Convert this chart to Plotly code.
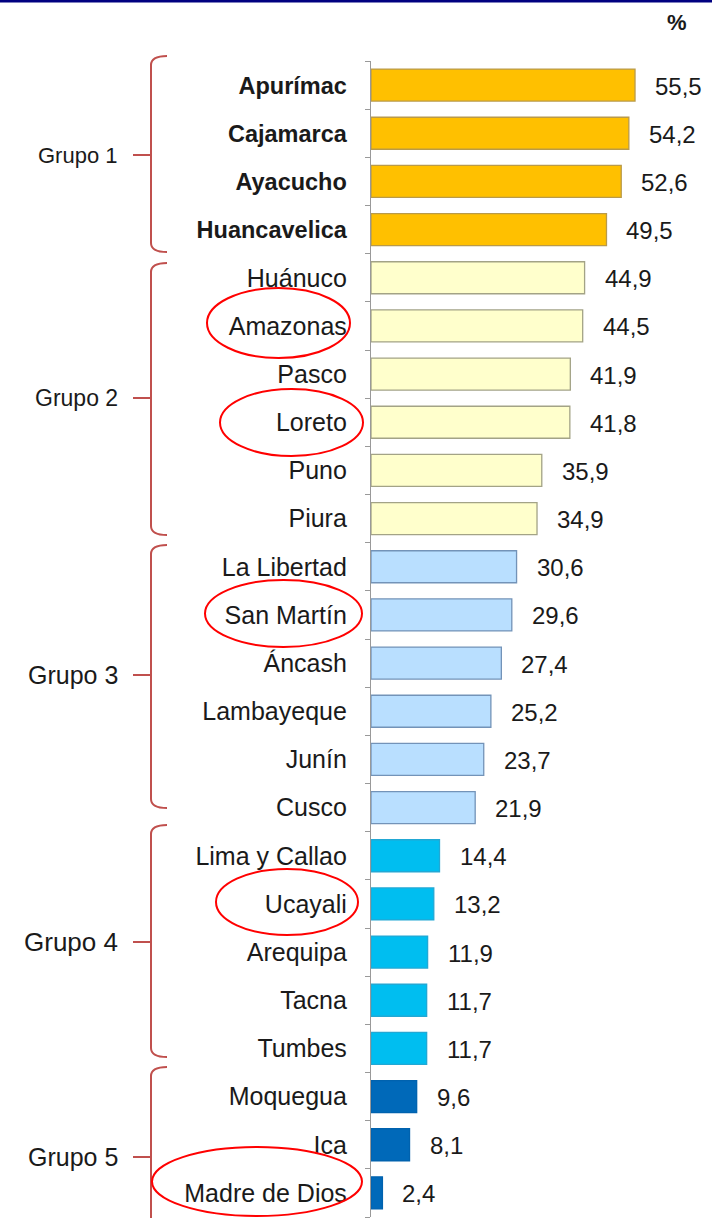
import plotly.graph_objects as go

# ---------------- data ----------------
regions = ["Apurímac", "Cajamarca", "Ayacucho", "Huancavelica",
           "Huánuco", "Amazonas", "Pasco", "Loreto", "Puno", "Piura",
           "La Libertad", "San Martín", "Áncash", "Lambayeque", "Junín", "Cusco",
           "Lima y Callao", "Ucayali", "Arequipa", "Tacna", "Tumbes",
           "Moquegua", "Ica", "Madre de Dios"]
values = [55.5, 54.2, 52.6, 49.5,
          44.9, 44.5, 41.9, 41.8, 35.9, 34.9,
          30.6, 29.6, 27.4, 25.2, 23.7, 21.9,
          14.4, 13.2, 11.9, 11.7, 11.7,
          9.6, 8.1, 2.4]
group_of = [1, 1, 1, 1,
            2, 2, 2, 2, 2, 2,
            3, 3, 3, 3, 3, 3,
            4, 4, 4, 4, 4,
            5, 5, 5]
group_names = ["Grupo 1", "Grupo 2", "Grupo 3", "Grupo 4", "Grupo 5"]
highlighted = ["Amazonas", "Loreto", "San Martín", "Ucayali", "Madre de Dios"]
unit_label = "%"

# ---------------- styles ----------------
fill_colors = {1: "#FFC000", 2: "#FFFFCC", 3: "#B9DFFF", 4: "#00BEF0", 5: "#0069B9"}
line_colors = {1: "#B99A4A", 2: "#A3A386", 3: "#7393B8", 4: "#22A8D4", 5: "#0062AE"}
brace_color = "#C0504D"
ellipse_color = "#FF0000"
text_color = "#1A1A1A"
FONT = "Liberation Sans, Arial, sans-serif"

W, H = 712, 1218
L, R, T, B = 371, 8, 61, 1
PW, PH = W - L - R, H - T - B


def px(x):
    return (x - L) / PW


def py(y):
    return (H - B - y) / PH


ticktext = []
for reg, g in zip(regions, group_of):
    if g == 1:
        ticktext.append(f"<b><span style='font-size:23.5px'>{reg}</span></b>")
    else:
        ticktext.append(reg)

fig = go.Figure()
fig.add_trace(go.Bar(
    x=values, y=regions, orientation="h",
    marker=dict(color=[fill_colors[g] for g in group_of],
                line=dict(color=[line_colors[g] for g in group_of], width=1.3)),
    hoverinfo="x+y",
))

annotations = []
for reg, v in zip(regions, values):
    annotations.append(dict(
        x=v, y=reg, xref="x", yref="y", xanchor="left", yanchor="middle",
        xshift=18, yshift=-1, showarrow=False,
        text=f"{v:.1f}".replace(".", ","),
        font=dict(size=24, color=text_color, family=FONT)))

# group labels & braces (pixel geometry of the hand-drawn braces)
brace_geom = [(56, 252, 155), (263, 535, 398), (545, 808, 675),
              (825, 1057, 942), (1067, 1240, 1157)]
label_sizes = [22, 23, 25, 26, 25]
shapes = []
xl, xr, xt = 151, 167, 133
for name, (top, bot, mid), fs in zip(group_names, brace_geom, label_sizes):
    annotations.append(dict(
        x=px(120), y=py(mid), xref="paper", yref="paper", xanchor="right",
        yanchor="middle", showarrow=False, text=name,
        font=dict(size=fs, color=text_color, family=FONT)))
    path = (f"M {px(xr)},{py(top)} Q {px(xl)},{py(top)} {px(xl)},{py(top + 9)} "
            f"L {px(xl)},{py(bot - 9)} Q {px(xl)},{py(bot)} {px(xr)},{py(bot)} "
            f"M {px(xt)},{py(mid)} L {px(xl)},{py(mid)}")
    shapes.append(dict(type="path", path=path, xref="paper", yref="paper",
                       line=dict(color=brace_color, width=2)))

# red ellipses around highlighted regions (pixel boxes)
ellipse_boxes = {"Amazonas": (207, 288, 350, 358),
                 "Loreto": (220, 389, 363, 456),
                 "San Martín": (205, 580, 362, 647),
                 "Ucayali": (216, 869, 358, 935),
                 "Madre de Dios": (152, 1147, 362, 1216)}
for reg in highlighted:
    x0, y0, x1, y1 = ellipse_boxes[reg]
    shapes.append(dict(type="circle", xref="paper", yref="paper",
                       x0=px(x0), x1=px(x1), y0=py(y1), y1=py(y0),
                       line=dict(color=ellipse_color, width=2)))

# top navy rule
shapes.append(dict(type="rect", xref="paper", yref="paper",
                   x0=px(0), x1=px(W), y0=py(2.5), y1=py(0),
                   fillcolor="#000080", line=dict(width=0)))

annotations.append(dict(x=px(689), y=py(22), xref="paper", yref="paper",
                        xanchor="right", yanchor="middle", showarrow=False,
                        text=f"<b>{unit_label}</b>",
                        font=dict(size=22, color=text_color, family=FONT)))

fig.update_layout(
    width=W, height=H, autosize=False,
    margin=dict(l=L, r=R, t=T, b=B, pad=0),
    paper_bgcolor="white", plot_bgcolor="white",
    bargap=0.335, showlegend=False,
    font=dict(family=FONT, color=text_color),
    xaxis=dict(range=[0, 70], visible=False, fixedrange=True),
    yaxis=dict(type="category", categoryorder="array", categoryarray=regions,
               autorange="reversed", tickmode="array", tickvals=regions,
               ticktext=ticktext, tickson="boundaries", ticks="outside",
               ticklen=5, tickcolor="#999999", tickwidth=1,
               showline=True, linecolor="#999999", linewidth=1.3,
               showgrid=False, zeroline=False, ticklabelstandoff=18,
               fixedrange=True,
               tickfont=dict(size=25, color=text_color, family=FONT)),
    annotations=annotations, shapes=shapes,
)

fig.write_html("out.html",
               config={"displayModeBar": False},
               post_script="document.body.style.margin='0';"
                           "document.body.style.overflow='hidden';")
